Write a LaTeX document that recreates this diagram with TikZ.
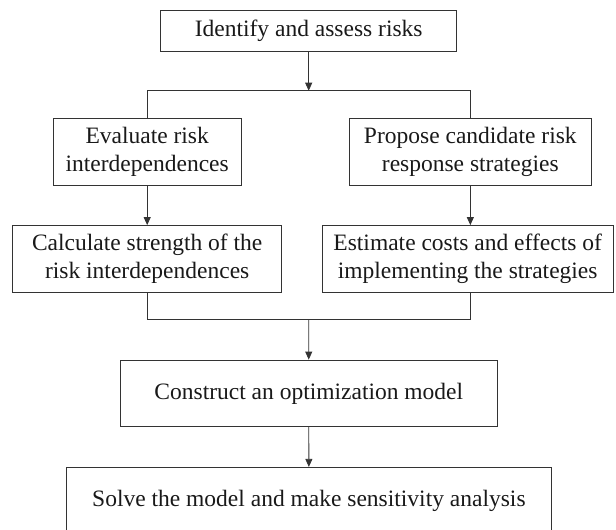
\documentclass[tikz,border=0pt]{standalone}
\usepackage{fontspec}
\setmainfont{Liberation Serif}
\usetikzlibrary{arrows.meta}
\begin{document}
\begin{tikzpicture}[x=1pt,y=-1pt,
  stepbox/.style={draw=black!80,line width=0.8pt,rectangle,inner sep=0pt,
    align=center,font=\fontsize{23.5}{28.2}\selectfont,text=black!90},
  link/.style={draw=black!80,line width=0.8pt},
  arr/.style={link,-{Triangle[length=8pt,width=7pt]}}]
\useasboundingbox (0,0) rectangle (616,530);
\clip (0,0) rectangle (616,530);
% process steps
\node[stepbox,minimum width=296pt,minimum height=40.3pt] (b1) at (308.7,30.85) {Identify and assess risks};
\node[stepbox,minimum width=187.7pt,minimum height=67pt] (b2) at (147.2,151.5) {Evaluate risk\\interdependences};
\node[stepbox,minimum width=242.1pt,minimum height=67pt] (b3) at (470.35,151.5) {Propose candidate risk\\response strategies};
\node[stepbox,minimum width=269pt,minimum height=67.2pt] (b4) at (147.2,259.1) {Calculate strength of the\\risk interdependences};
\node[stepbox,minimum width=291.3pt,minimum height=67.2pt] (b5) at (467.65,259.1) {Estimate costs and effects of\\implementing the strategies};
\node[stepbox,minimum width=377pt,minimum height=66.7pt] (b6) at (308.8,393.35) {Construct an optimization model};
\node[stepbox,minimum width=484.2pt,minimum height=66.7pt] (b7) at (308.9,500.65) {Solve the model and make sensitivity analysis};
% branch and merge points
\coordinate (split) at (308.7,90.7);
\coordinate (merge) at (308.7,319.3);
% connectors
\draw[arr] (b1) -- (split);
\draw[link] (b2.north) |- (split) -| (b3.north);
\draw[arr] (b2) -- (b4);
\draw[arr] (b3.south) -- (b3.south |- b5.north);
\draw[link] (b4.south) |- (merge) -| (b3.south |- b5.south);
\draw[arr] (merge) -- (b6);
\draw[arr] (b6) -- (b7);
\end{tikzpicture}
\end{document}
